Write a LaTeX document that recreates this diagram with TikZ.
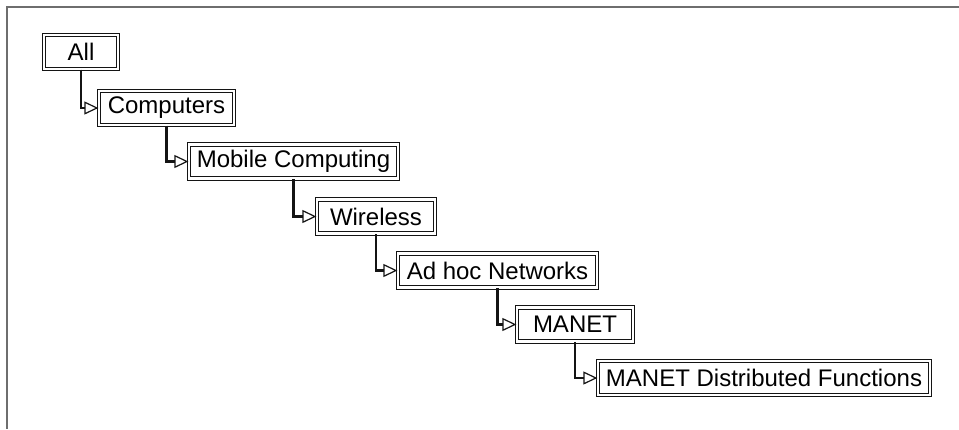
\documentclass[tikz,border=0pt]{standalone}
\usepackage{fontspec}
\setmainfont{Liberation Sans}
\usetikzlibrary{arrows.meta}
\definecolor{framegray}{RGB}{110, 110, 110}
\definecolor{boxblack}{RGB}{20, 20, 20}

\begin{document}
\begin{tikzpicture}[x=0.5pt, y=-0.5pt,
	cat/.style = {draw=boxblack, line width=0.65pt, double, double distance=1.1pt, minimum height=17pt, inner sep=0pt, font=\fontsize{12}{14}\selectfont},
	link/.style = {draw=boxblack, line width=1.1pt, -{Triangle[open, length=7pt, width=6.5pt, line width=0.6pt]}}]
	\useasboundingbox (0,0) rectangle (959,429);
	\draw[line width=1.1pt, framegray] (959,7) -- (7,7) -- (7,429);
	\node[cat, minimum width=37pt] (all) at (81,52) {All};
	\node[cat, minimum width=67.5pt] (comp) at (166.5,108) {Computers};
	\node[cat, minimum width=104.5pt] (mob) at (293.5,161.5) {Mobile Computing};
	\node[cat, minimum width=59pt] (wire) at (376,216.5) {Wireless};
	\node[cat, minimum width=99.5pt] (adhoc) at (497.5,270.5) {Ad hoc Networks};
	\node[cat, minimum width=58pt] (manet) at (575,324.5) {MANET};
	\node[cat, minimum width=166pt] (mdf) at (764,378) {MANET Distributed Functions};
	\draw[link] (all.south) |- (comp.west);
	\draw[link] (comp.south) |- (mob.west);
	\draw[link] (mob.south) |- (wire.west);
	\draw[link] (wire.south) |- (adhoc.west);
	\draw[link] (adhoc.south) |- (manet.west);
	\draw[link] (manet.south) |- (mdf.west);
\end{tikzpicture}
\end{document}
